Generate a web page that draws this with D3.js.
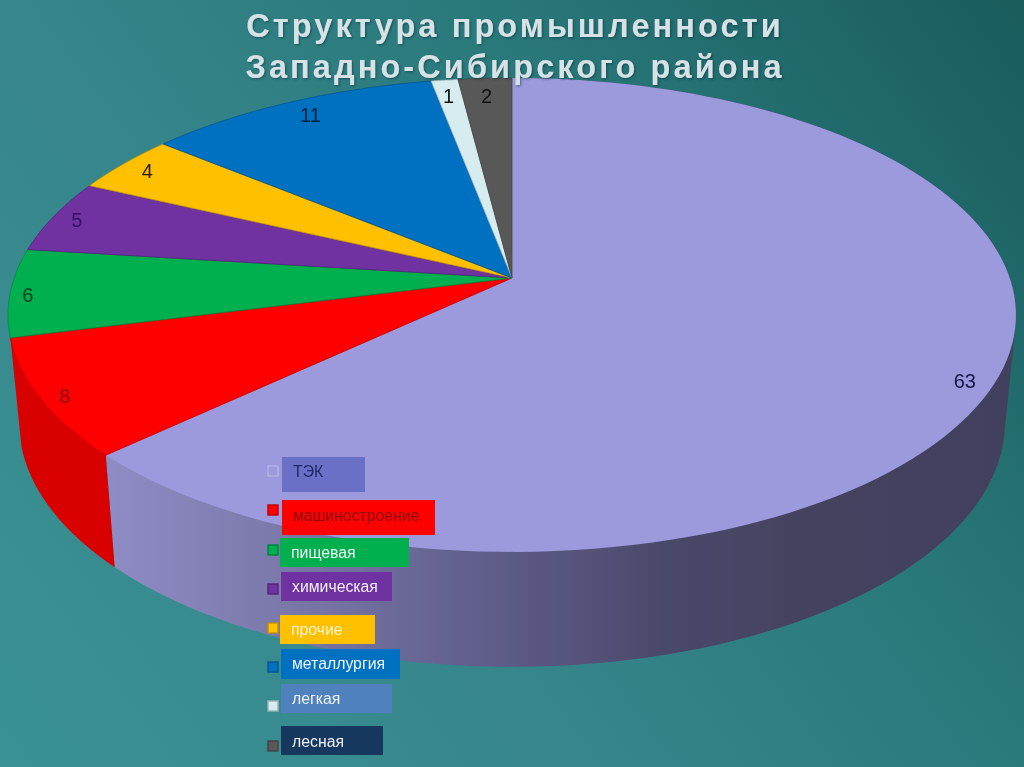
<!DOCTYPE html>
<html><head><meta charset="utf-8">
<script src="https://cdn.jsdelivr.net/npm/d3@7/dist/d3.min.js"></script>
<style>html,body{margin:0;padding:0;background:#2a7a7d;overflow:hidden}svg{display:block}text{font-family:"Liberation Sans",Arial,sans-serif}</style>
</head><body><svg id="c" width="1024" height="767"></svg>
<script>
const titleLines = ["Структура промышленности", "Западно-Сибирского района"];
const categories = ["ТЭК","машиностроение","пищевая","химическая","прочие","металлургия","легкая","лесная"];
const values = [63,8,6,5,4,11,1,2];

// styles and layout (separate from data)
const sliceColors = ["#9c99dc","#ff0000","#00b050","#7030a0","#ffc000","#0070c0","#d6ecef","#595959"];
const valueColors = ["#14144a","#8a0a14","#05401f","#3a1070","#2b1a00","#06213f","#111111","#111111"];
const boxColors = ["#6b70c6","#ff0000","#00b050","#7030a0","#ffc000","#0070c0","#4f81bd","#17375e"];
const legendText = ["#1f2a66","#8a0a12","#f2f7f2","#f4eef8","#fff3cf","#eef6fb","#eef3f8","#eef2f6"];
const boxX = [282,282,280,281,280,281,281,281];
const boxW = [83,153,129,111,95,119,111,102];
const boxY = [457,500,538,572,615,649,684,726];
const boxH = [35,35,29,29,29,30,29,29];
const squareY = [471,510,550,589,628,667,706,746];
const labelTextY = [471,515,552,586,629,663,698,741];
const labelNudge = [[2,12],[-11,7],[-18,3],[-8,0],[-2,0],[8,2],[0,4],[0,5]];

const svg = d3.select("#c");
const defs = svg.append("defs");
const bg = defs.append("linearGradient").attr("id","bg").attr("gradientUnits","userSpaceOnUse")
  .attr("x1",0).attr("y1",767).attr("x2",1024).attr("y2",0);
[[0,"#3a9295"],[0.36,"#36868b"],[0.64,"#2a7a7c"],[0.85,"#20686a"],[1,"#1a5c5c"]].forEach(s=>bg.append("stop").attr("offset",s[0]).attr("stop-color",s[1]));
const wall = defs.append("linearGradient").attr("id","wall").attr("gradientUnits","userSpaceOnUse")
  .attr("x1",107).attr("y1",0).attr("x2",1016).attr("y2",0);
[[0,"#8e8cc4"],[0.2,"#7a78a9"],[0.42,"#5f5d8a"],[0.62,"#4a4869"],[0.78,"#44425f"],[1,"#43415e"]].forEach(s=>wall.append("stop").attr("offset",s[0]).attr("stop-color",s[1]));
const blur = defs.append("filter").attr("id","soft").attr("x","-5%").attr("y","-5%").attr("width","110%").attr("height","110%");
blur.append("feGaussianBlur").attr("stdDeviation",0.5);
const shadow = defs.append("filter").attr("id","tshadow").attr("x","-5%").attr("y","-20%").attr("width","110%").attr("height","140%");
shadow.append("feDropShadow").attr("dx",1.2).attr("dy",1.2).attr("stdDeviation",1).attr("flood-color","#123").attr("flood-opacity",0.45);

svg.append("rect").attr("width",1024).attr("height",767).attr("fill","url(#bg)");

// perspective projection of the unit disc on to the screen
const CX=512, CY=278, A=497.8, B=231.2, P=-0.156;
const project = (theta,r=1)=>{
  const u=r*Math.sin(theta), v=-r*Math.cos(theta), d=1+P*v;
  return [CX+A*u/d, CY+B*v/d];
};
const lower = ([x,y])=>[CX+(x-CX)*0.978, y+112+(y-455)*0.03];

const pie = d3.pie().sort(null)(values);
const line = d3.line();
const arcPts = (a0,a1)=>d3.range(0,121).map(i=>project(a0+(a1-a0)*i/120));

const chart = svg.append("g").attr("filter","url(#soft)");
// side walls: hull of the slice's rim and its lowered copy
[[0,"url(#wall)"],[1,"#d90000"]].forEach(([i,fill])=>{
  const t=arcPts(pie[i].startAngle,pie[i].endAngle);
  chart.append("path").attr("d",line(d3.polygonHull(t.concat(t.map(lower))))+"Z").attr("fill",fill);
});
// top face
chart.selectAll("path.top").data(pie).join("path").attr("class","top")
  .attr("d",d=>line([[CX,CY]].concat(arcPts(d.startAngle,d.endAngle)))+"Z")
  .attr("fill",(d,i)=>sliceColors[i])
  .attr("stroke",(d,i)=>d3.color(sliceColors[i]).darker(0.7))
  .attr("stroke-width",(d,i)=>i===0?0:0.8)
  .attr("stroke-linejoin","round");
// value labels
chart.selectAll("text.val").data(pie).join("text").attr("class","val")
  .attr("x",(d,i)=>project((d.startAngle+d.endAngle)/2,0.93)[0]+labelNudge[i][0])
  .attr("y",(d,i)=>project((d.startAngle+d.endAngle)/2,0.93)[1]+labelNudge[i][1])
  .attr("text-anchor","middle").attr("dominant-baseline","central")
  .attr("font-size",20).attr("fill",(d,i)=>valueColors[i])
  .text(d=>d.data);

// legend
const legend = svg.append("g").attr("filter","url(#soft)");
const row = legend.selectAll("g").data(categories).join("g");
row.append("rect").attr("x",(d,i)=>boxX[i]).attr("y",(d,i)=>boxY[i]).attr("width",(d,i)=>boxW[i]).attr("height",(d,i)=>boxH[i])
  .attr("fill",(d,i)=>boxColors[i]);
row.append("rect").attr("x",268).attr("y",(d,i)=>squareY[i]-5).attr("width",10).attr("height",10)
  .attr("fill",(d,i)=>i===0?"#9c99dc":sliceColors[i])
  .attr("stroke",(d,i)=>i===0?"#b4b2e2":d3.color(sliceColors[i]).darker(0.8)).attr("stroke-width",1.4);
row.append("text").attr("x",(d,i)=>boxX[i]+11).attr("y",(d,i)=>labelTextY[i])
  .attr("dominant-baseline","central").attr("font-size",15.8).attr("fill",(d,i)=>legendText[i]).text(d=>d);

// title
const title = svg.append("g").attr("filter","url(#tshadow)");
title.selectAll("text").data(titleLines).join("text")
  .attr("x",515).attr("y",(d,i)=>i?78:37).attr("text-anchor","middle")
  .attr("font-size",32.5).attr("font-weight","bold").attr("letter-spacing",3.1)
  .attr("fill","#d6e2e5").text(d=>d);
</script></body></html>
